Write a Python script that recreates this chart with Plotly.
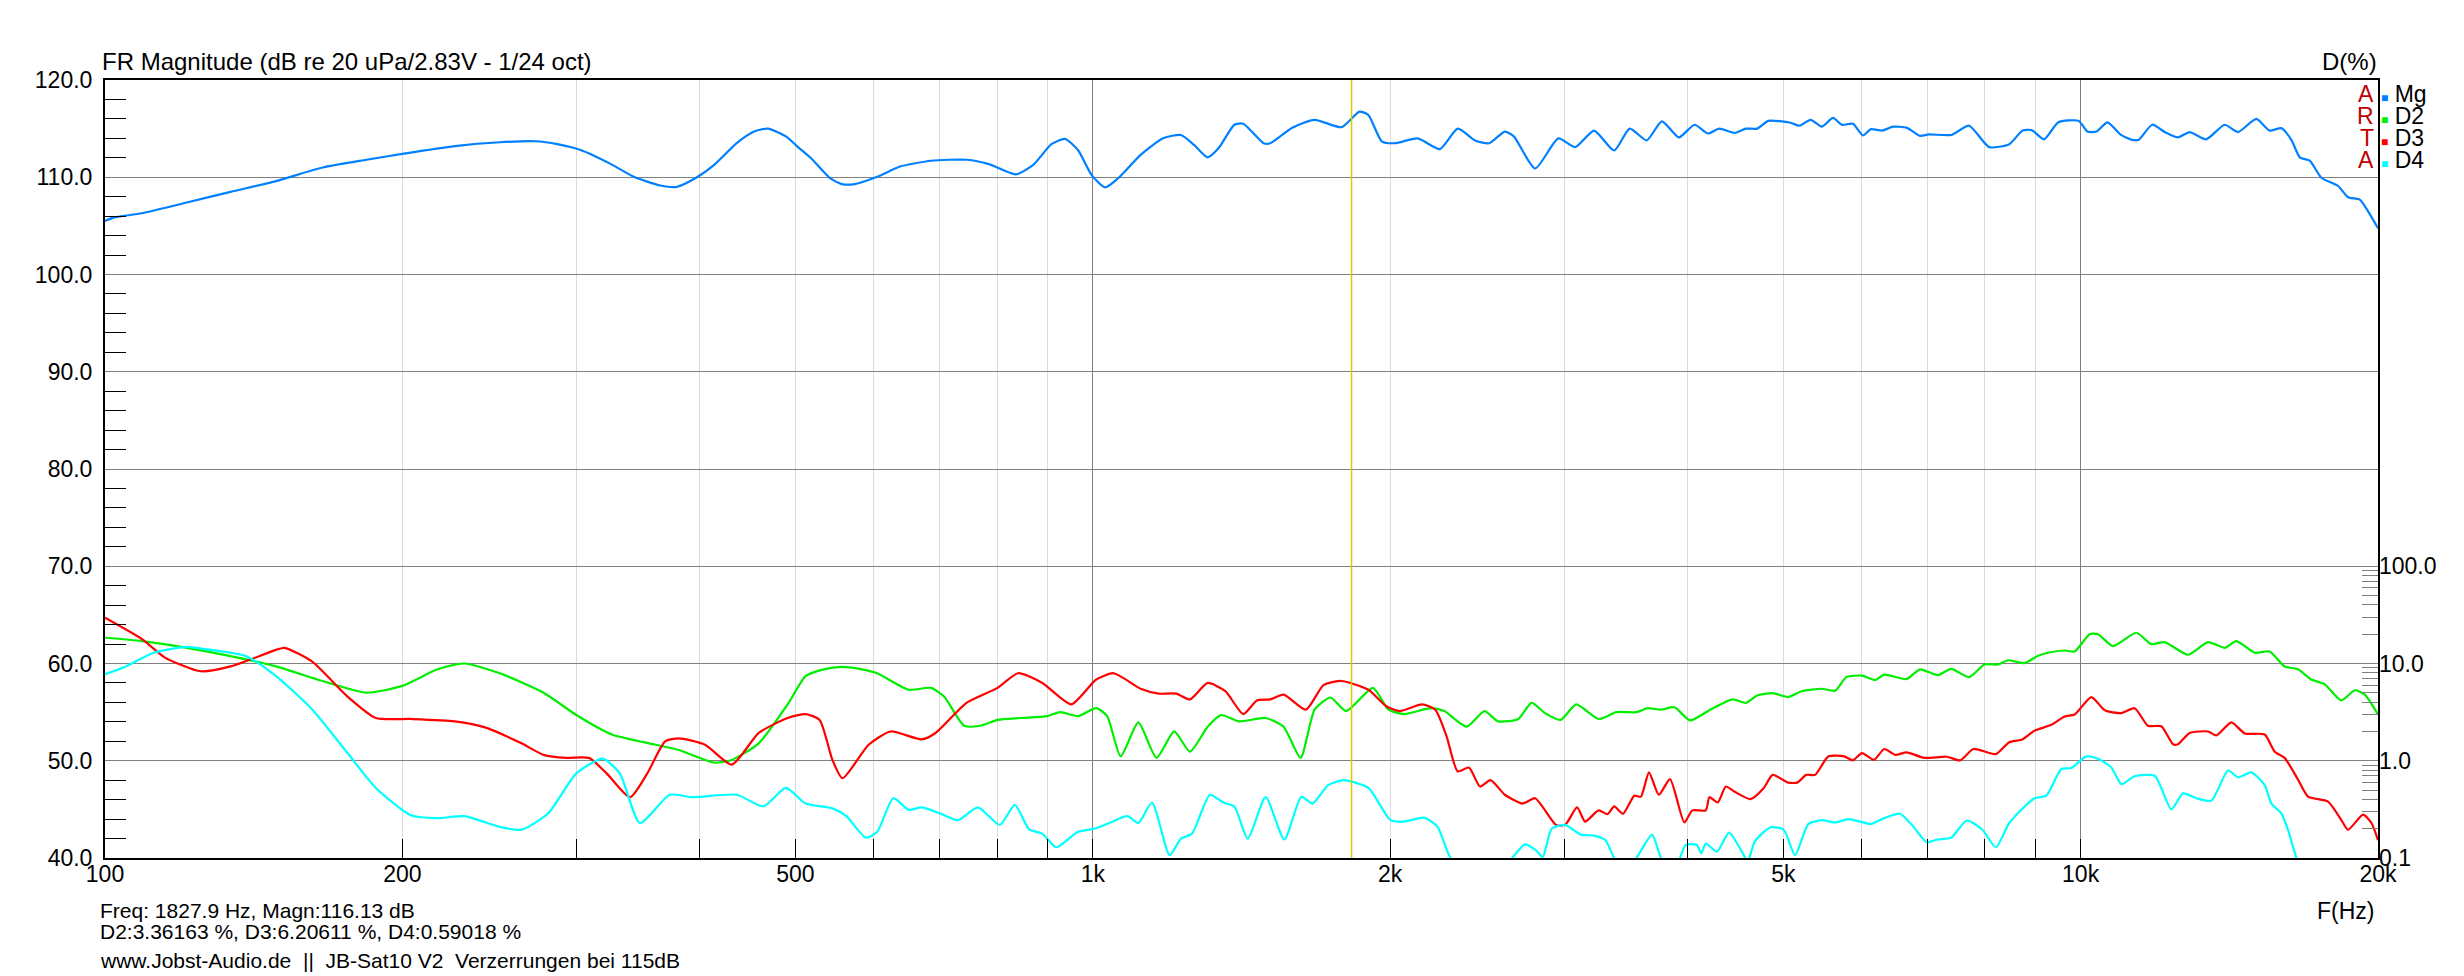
import plotly.graph_objects as go

# --- data --------------------------------------------------------------
# Magnitude (dB re 20 uPa / 2.83 V)
mg_freq = [100, 102, 109, 121, 134, 149, 166, 184, 200, 226,
           251, 273, 287, 303, 326, 343, 365, 379, 397, 414,
           436, 454, 469, 489, 503, 518, 542, 557, 574, 605,
           638, 686, 745, 785, 836, 871, 908, 937, 966, 997,
           1029, 1061, 1118, 1178, 1228, 1267, 1307, 1341, 1391, 1420,
           1489, 1512, 1592, 1677, 1786, 1862, 1901, 1961, 2023, 2132,
           2246, 2341, 2441, 2519, 2613, 2668, 2804, 2960, 3079, 3217,
           3371, 3496, 3637, 3768, 3920, 4066, 4196, 4306, 4466, 4584,
           4705, 4828, 5086, 5193, 5330, 5470, 5614, 5732, 5882, 6019,
           6133, 6295, 6461, 6665, 6876, 7020, 7396, 7710, 8080, 8467,
           8735, 8919, 9183, 9494, 9950, 10160, 10373, 10647, 10985, 11274,
           11451, 11815, 12190, 12548, 12895, 13400, 13990, 14433, 15063, 15537,
           15965, 16343, 16666, 17058, 17528, 18224, 18652, 19168, 19545, 20000]
mg_db = [105.5, 105.85, 106.3, 107.4, 108.5, 109.6, 111.0, 111.8, 112.4, 113.2,
         113.6, 113.7, 113.4, 112.8, 111.3, 110.05, 109.15, 109.0, 109.97, 111.3,
         113.5, 114.7, 115.0, 114.2, 113.1, 112.0, 109.9, 109.3, 109.3, 110.05,
         111.1, 111.7, 111.8, 111.35, 110.3, 111.3, 113.4, 113.95, 112.8, 110.25,
         108.95, 109.9, 112.3, 114.0, 114.35, 113.3, 112.05, 113.0, 115.4, 115.5,
         113.5, 113.5, 115.1, 115.9, 115.15, 116.75, 116.4, 113.7, 113.5, 114.0,
         112.9, 115.0, 113.75, 113.5, 114.7, 114.2, 110.9, 114.0, 113.1, 114.8,
         112.75, 115.0, 113.8, 115.75, 114.1, 115.4, 114.5, 115.0, 114.55, 115.0,
         115.0, 115.8, 115.6, 115.3, 115.9, 115.2, 116.1, 115.4, 115.5, 114.3,
         114.95, 114.8, 115.2, 115.1, 114.25, 114.4, 114.35, 115.3, 113.1, 113.4,
         114.8, 114.85, 113.9, 115.65, 115.8, 114.7, 114.7, 115.65, 114.35, 113.85,
         113.85, 115.4, 114.6, 114.1, 114.65, 113.9, 115.4, 114.65, 116.0, 114.8,
         115.05, 113.85, 112.05, 111.7, 109.95, 109.1, 107.95, 107.7, 106.5, 104.75]

# 2nd harmonic distortion (%)
d2_freq = [100, 109, 121, 134, 149, 166, 184, 200, 217, 231,
           251, 278, 300, 326, 361, 381, 414, 431, 459, 491,
           512, 534, 557, 580, 605, 651, 686, 707, 741, 769,
           801, 844, 899, 927, 966, 1008, 1034, 1067, 1112, 1160,
           1209, 1254, 1307, 1348, 1406, 1496, 1560, 1623, 1677, 1740,
           1805, 1921, 1992, 2066, 2199, 2269, 2390, 2492, 2572, 2696,
           2781, 2869, 2975, 3086, 3251, 3389, 3551, 3645, 3760, 3880,
           4024, 4217, 4443, 4584, 4705, 4878, 5059, 5220, 5470, 5643,
           5792, 6007, 6196, 6327, 6665, 6876, 7168, 7396, 7710, 7996,
           8250, 8445, 8778, 9055, 9268, 9635, 9863, 10213, 10414, 10784,
           11386, 11792, 12164, 12845, 13458, 13990, 14378, 15005, 15537, 16089,
           16601, 17124, 17665, 18365, 18945, 19394, 20000]
d2_pct = [18.4, 17.0, 14.5, 11.9, 9.33, 6.61, 5.01, 5.89, 8.71, 10.0,
          7.94, 5.01, 2.95, 1.86, 1.46, 1.29, 0.955, 1.02, 1.51, 3.80,
          7.41, 8.71, 9.23, 8.81, 7.94, 5.37, 5.62, 4.57, 2.29, 2.29,
          2.63, 2.75, 2.88, 3.16, 2.88, 3.47, 2.88, 1.11, 2.48, 1.07,
          2.0, 1.24, 2.24, 2.95, 2.54, 2.75, 2.24, 1.07, 3.35, 4.47,
          3.24, 5.62, 3.35, 3.02, 3.47, 3.24, 2.24, 3.24, 2.54, 2.69,
          3.94, 3.09, 2.63, 3.80, 2.69, 3.16, 3.16, 3.47, 3.35, 3.55,
          2.60, 3.35, 4.27, 3.94, 4.68, 4.95, 4.52, 5.19, 5.50, 5.25,
          7.24, 7.50, 6.76, 7.67, 6.92, 8.71, 7.59, 8.81, 7.24, 9.77,
          9.77, 10.8, 10.1, 12.0, 12.9, 13.6, 13.3, 20.0, 20.0, 15.1,
          20.7, 15.8, 16.6, 12.3, 16.6, 14.5, 17.0, 12.9, 13.3, 9.33,
          8.71, 6.84, 6.10, 4.17, 5.31, 4.79, 2.99]

# 3rd harmonic distortion (%)
d3_freq = [100, 109, 115, 125, 134, 149, 152, 162, 176, 188,
           204, 226, 243, 264, 278, 293, 309, 322, 340, 354,
           369, 381, 405, 431, 459, 491, 512, 529, 545, 558,
           593, 624, 671, 693, 745, 801, 840, 889, 951, 1008,
           1050, 1118, 1166, 1215, 1254, 1307, 1362, 1420, 1466, 1512,
           1560, 1643, 1713, 1786, 1901, 1982, 2045, 2154, 2222, 2281,
           2341, 2403, 2466, 2527, 2613, 2724, 2804, 2944, 3007, 3092,
           3151, 3251, 3319, 3371, 3442, 3533, 3588, 3656, 3741, 3840,
           3970, 4045, 4174, 4209, 4292, 4373, 4466, 4632, 4778, 4878,
           5059, 5166, 5274, 5385, 5556, 5762, 5882, 6007, 6177, 6327,
           6494, 6665, 6948, 7319, 7551, 7790, 8207, 8467, 8710, 8985,
           9340, 9635, 9863, 10253, 10578, 10995, 11342, 11700, 12070, 12402,
           12548, 12895, 13458, 13722, 14210, 14660, 15357, 15719, 16089, 16601,
           16991, 17803, 18365, 18652, 19318, 19697, 20000]
d3_pct = [29.5, 17.8, 11.5, 8.32, 9.33, 13.8, 14.5, 10.5, 4.57, 2.75,
          2.69, 2.54, 2.19, 1.51, 1.15, 1.07, 1.07, 0.741, 0.422, 0.741,
          1.58, 1.70, 1.46, 0.912, 1.93, 2.75, 3.02, 2.63, 1.02, 0.661,
          1.46, 2.0, 1.66, 1.93, 3.94, 5.62, 7.94, 6.31, 3.80, 6.84,
          7.94, 5.50, 4.90, 4.90, 4.27, 6.31, 5.19, 3.02, 4.17, 4.27,
          4.79, 3.35, 6.03, 6.61, 5.37, 3.63, 3.24, 3.80, 3.35, 1.78,
          0.776, 0.851, 0.543, 0.631, 0.447, 0.363, 0.412, 0.219, 0.219, 0.331,
          0.237, 0.309, 0.282, 0.339, 0.285, 0.437, 0.427, 0.759, 0.447, 0.646,
          0.232, 0.309, 0.309, 0.422, 0.372, 0.543, 0.479, 0.403, 0.525, 0.716,
          0.596, 0.596, 0.716, 0.716, 1.11, 1.11, 1.01, 1.20, 1.02, 1.32,
          1.15, 1.22, 1.07, 1.10, 1.01, 1.32, 1.17, 1.55, 1.64, 2.04,
          2.34, 2.85, 2.99, 4.52, 3.31, 3.09, 3.47, 2.29, 2.26, 1.48,
          1.48, 1.93, 2.0, 1.82, 2.48, 1.91, 1.86, 1.24, 1.07, 0.638,
          0.427, 0.380, 0.245, 0.195, 0.279, 0.229, 0.153]

# 4th harmonic distortion (%) - values under 0.1 % fall below the plot
d4_freq = [100, 105, 112, 121, 126, 139, 149, 162, 176, 188,
           204, 217, 231, 251, 264, 281, 300, 319, 332, 348,
           373, 393, 436, 464, 489, 512, 545, 563, 589, 605,
           628, 651, 671, 700, 730, 765, 805, 834, 862, 889,
           918, 966, 1008, 1039, 1084, 1112, 1148, 1196, 1228, 1260,
           1314, 1355, 1391, 1435, 1496, 1563, 1626, 1669, 1731, 1795,
           1901, 2002, 2066, 2165, 2234, 2305, 2450, 2580, 2654, 2738,
           2810, 2854, 2914, 3007, 3118, 3217, 3302, 3371, 3450, 3551,
           3683, 3760, 3870, 3983, 4088, 4130, 4174, 4284, 4406, 4560,
           4600, 4680, 4853, 5006, 5139, 5302, 5470, 5643, 5822, 6133,
           6327, 6562, 6770, 6984, 7168, 7396, 7670, 7955, 8207, 8467,
           8778, 8985, 9232, 9560, 9786, 10134, 10414, 10742, 10995, 11342,
           11885, 12354, 12696, 13097, 13562, 14100, 14433, 14888, 15357, 15598,
           15965, 16218, 16536, 16900]
d4_pct = [7.76, 9.33, 12.9, 14.8, 14.1, 11.9, 7.41, 3.39, 1.20, 0.525,
          0.275, 0.257, 0.269, 0.209, 0.195, 0.288, 0.741, 1.05, 0.741, 0.229,
          0.447, 0.422, 0.447, 0.339, 0.525, 0.363, 0.324, 0.269, 0.162, 0.186,
          0.412, 0.313, 0.331, 0.288, 0.245, 0.331, 0.219, 0.351, 0.197, 0.178,
          0.129, 0.186, 0.202, 0.229, 0.269, 0.229, 0.372, 0.107, 0.158, 0.178,
          0.447, 0.372, 0.339, 0.158, 0.422, 0.155, 0.427, 0.363, 0.562, 0.631,
          0.525, 0.245, 0.237, 0.260, 0.209, 0.098, 0.07, 0.07, 0.098, 0.138,
          0.120, 0.102, 0.200, 0.219, 0.174, 0.170, 0.153, 0.100, 0.07, 0.100,
          0.174, 0.100, 0.07, 0.136, 0.136, 0.112, 0.141, 0.116, 0.182, 0.107,
          0.09, 0.148, 0.207, 0.195, 0.107, 0.224, 0.245, 0.232, 0.251, 0.224,
          0.257, 0.285, 0.211, 0.145, 0.155, 0.162, 0.243, 0.195, 0.129, 0.229,
          0.339, 0.412, 0.437, 0.822, 0.841, 1.11, 1.05, 0.851, 0.575, 0.692,
          0.700, 0.316, 0.462, 0.412, 0.389, 0.794, 0.676, 0.759, 0.562, 0.363,
          0.288, 0.195, 0.100, 0.06]

# axes / annotation text
freq_ticks = [100, 200, 500, 1000, 2000, 5000, 10000, 20000]
freq_labels = ['100', '200', '500', '1k', '2k', '5k', '10k', '20k']
freq_minor = [300, 400, 600, 700, 800, 900,
              3000, 4000, 6000, 7000, 8000, 9000]
decades = [100, 1000, 10000]
db_ticks = [40, 50, 60, 70, 80, 90, 100, 110, 120]
pct_ticks = [0.1, 1, 10, 100]
pct_labels = ['0.1', '1.0', '10.0', '100.0']
pct_minor = [0.2, 0.3, 0.4, 0.5, 0.6, 0.7, 0.8, 0.9,
             2, 3, 4, 5, 6, 7, 8, 9,
             20, 30, 40, 50, 60, 70, 80, 90]

cursor_freq = 1827.9
cursor_text = ['Freq: 1827.9 Hz, Magn:116.13 dB',
               'D2:3.36163 %, D3:6.20611 %, D4:0.59018 %',
               'www.Jobst-Audio.de &nbsp;||&nbsp; JB-Sat10 V2 &nbsp;Verzerrungen bei 115dB']

series = [('Mg', '#0080ff'), ('D2', '#00ee00'), ('D3', '#ff0000'), ('D4', '#00ffff')]
arta = ['A', 'R', 'T', 'A']

FONT = 'Liberation Sans, Arial, sans-serif'
x_range = [2, 4.30104]
# 10 dB on the left axis = one decade of D(%); 0.1 % sits on 40 dB
pct_range = [-1, 7]

fig = go.Figure()

# yellow cursor line (on the overlay x axis that carries the decade grid)
fig.add_trace(go.Scatter(x=[cursor_freq, cursor_freq], y=[db_ticks[0], db_ticks[-1]],
                         mode='lines', line=dict(color='#d6cc00', width=1.5),
                         xaxis='x2', yaxis='y', hoverinfo='skip'))

fig.add_trace(go.Scatter(x=mg_freq, y=mg_db, mode='lines', name='Mg',
                         line=dict(color=series[0][1], width=2.2, shape='spline', smoothing=0.6)))
for (name, color), fx, fy in zip(series[1:], [d2_freq, d3_freq, d4_freq], [d2_pct, d3_pct, d4_pct]):
    fig.add_trace(go.Scatter(x=fx, y=fy, mode='lines', name=name, yaxis='y2',
                             line=dict(color=color, width=2.2, shape='spline', smoothing=0.6)))

fig.update_layout(
    width=2464, height=976,
    margin=dict(l=97, r=94, t=72, b=126),
    plot_bgcolor='white', paper_bgcolor='white',
    showlegend=False,
    font=dict(family=FONT, size=23, color='black'),
    xaxis=dict(type='log', range=x_range,
               tickmode='array', tickvals=freq_ticks, ticktext=freq_labels,
               showgrid=True, gridcolor='#dcdcdc', gridwidth=1,
               ticks='inside', ticklen=19, tickcolor='black', tickwidth=1,
               minor=dict(tickmode='array', tickvals=freq_minor, showgrid=True,
                          gridcolor='#dcdcdc', ticks='inside', ticklen=19,
                          tickcolor='black', tickwidth=1),
               showline=True, linecolor='black', linewidth=2, mirror=True,
               zeroline=False, ticklabelstandoff=-6),
    xaxis2=dict(type='log', range=x_range, overlaying='x',
                tickmode='array', tickvals=decades, showticklabels=False,
                showgrid=True, gridcolor='#808080', gridwidth=1,
                ticks='', showline=False, zeroline=False),
    yaxis=dict(range=[db_ticks[0], db_ticks[-1]],
               tickmode='array', tickvals=db_ticks, ticktext=[f'{v:.1f}' for v in db_ticks],
               showgrid=True, gridcolor='#808080', gridwidth=1,
               ticks='inside', ticklen=21, tickcolor='#808080',
               minor=dict(tickmode='linear', tick0=40, dtick=2, ticks='inside',
                          ticklen=21, tickcolor='black', tickwidth=1, showgrid=False),
               showline=True, linecolor='black', linewidth=2, mirror=True,
               zeroline=False, ticklabelstandoff=6),
    yaxis2=dict(type='log', range=pct_range, overlaying='y', side='right',
                tickmode='array', tickvals=pct_ticks, ticktext=pct_labels,
                showgrid=False, ticks='inside', ticklen=16, tickcolor='#808080',
                minor=dict(tickmode='array', tickvals=pct_minor, ticks='inside',
                           ticklen=16, tickcolor='#808080', tickwidth=1, showgrid=False),
                showline=False, zeroline=False, ticklabelstandoff=0),
)

ann = [
    dict(text='FR Magnitude (dB re 20 uPa/2.83V - 1/24 oct)', x=0, y=1, xshift=-5,
         xanchor='left', yanchor='bottom', yshift=3, font=dict(size=24)),
    dict(text='D(%)', x=1, y=1, xanchor='right', yanchor='bottom', yshift=3,
         xshift=1, font=dict(size=24)),
    dict(text='F(Hz)', x=1, y=0, xanchor='right', yanchor='top', yshift=-38, xshift=-2),
]
for i, line in enumerate(cursor_text):
    ann.append(dict(text=line, x=0, y=0, xanchor='left', yanchor='top', xshift=-7,
                    yshift=[-39, -60, -89][i], font=dict(size=21)))
for i, ((name, color), letter) in enumerate(zip(series, arta)):
    ann.append(dict(text=letter, x=1, y=1, xanchor='right', yanchor='middle',
                    xshift=-2, yshift=-14 - 22 * i,
                    font=dict(size=23, color='#c00000')))
    ann.append(dict(text=f"<span style='color:{color};font-size:12px'>■</span> {name}",
                    x=1, y=1, xanchor='left', yanchor='middle',
                    xshift=1, yshift=-14 - 22 * i, font=dict(size=23)))
for a in ann:
    a.update(xref='paper', yref='paper', showarrow=False)
fig.update_layout(annotations=ann)

fig.write_html("out.html")
